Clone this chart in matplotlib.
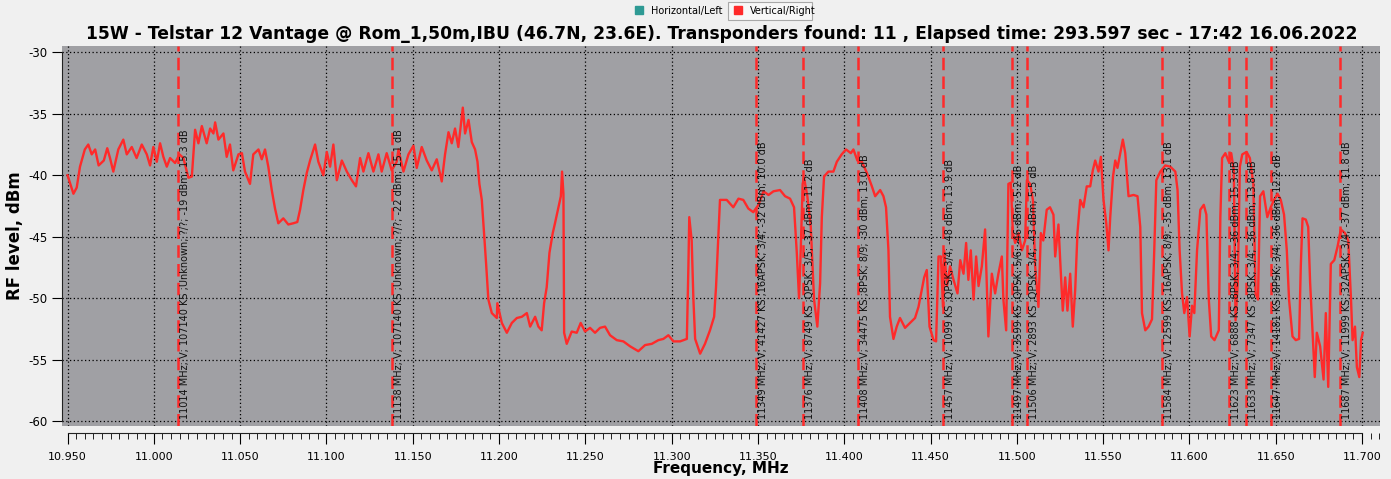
import matplotlib
matplotlib.use("Agg")
import matplotlib.pyplot as plt
from matplotlib.lines import Line2D
from matplotlib.patches import Rectangle
from matplotlib.ticker import MultipleLocator, FuncFormatter
from matplotlib.transforms import offset_copy

# spectrum trace, frequency in MHz and level in dBm
freq = [
    10950.0, 10953.4, 10955.3, 10957.2, 10960.0, 10962.0, 10964.0, 10966.0, 10968.0, 10971.0,
    10973.0, 10974.6, 10976.5, 10979.4, 10982.3, 10984.3, 10987.2, 10990.0, 10993.0, 10995.9,
    10997.8, 10999.7, 11001.7, 11003.6, 11005.5, 11007.5, 11009.4, 11012.3, 11014.8, 11017.1,
    11020.0, 11022.0, 11023.9, 11025.8, 11027.8, 11030.6, 11032.6, 11034.5, 11035.5, 11037.4,
    11040.3, 11042.2, 11044.1, 11046.0, 11049.0, 11051.0, 11052.8, 11055.7, 11057.6, 11060.6,
    11062.5, 11064.4, 11066.3, 11068.3, 11070.2, 11072.1, 11075.0, 11077.9, 11080.8, 11083.1,
    11084.7, 11086.6, 11088.6, 11090.5, 11093.4, 11095.3, 11098.2, 11100.2, 11102.1, 11104.0,
    11106.0, 11108.9, 11111.8, 11114.7, 11117.1, 11119.5, 11121.4, 11124.3, 11127.2, 11130.1,
    11132.0, 11134.9, 11137.8, 11140.7, 11141.7, 11144.6, 11147.5, 11150.4, 11152.3, 11155.2,
    11158.1, 11161.0, 11163.9, 11166.8, 11168.7, 11170.7, 11172.6, 11174.5, 11176.4, 11177.8,
    11179.0, 11180.3, 11182.3, 11184.2, 11186.1, 11187.5, 11188.6, 11190.0, 11191.3, 11192.5,
    11193.8, 11195.8, 11198.7, 11199.0, 11201.6, 11204.5, 11207.4, 11210.3, 11213.2, 11216.1,
    11218.0, 11220.9, 11222.8, 11224.7, 11226.1, 11227.6, 11229.2, 11231.1, 11232.4, 11234.4,
    11235.8, 11236.5, 11237.3, 11237.7, 11239.2, 11242.1, 11245.0, 11247.3, 11249.8, 11252.7,
    11255.6, 11258.5, 11261.4, 11264.3, 11268.2, 11272.0, 11275.9, 11280.7, 11284.6, 11288.5,
    11292.3, 11295.2, 11298.1, 11301.0, 11304.9, 11308.8, 11309.7, 11310.2, 11311.6, 11312.6,
    11313.6, 11316.5, 11319.3, 11322.2, 11324.6, 11325.7, 11327.1, 11328.0, 11331.9, 11335.7,
    11338.7, 11341.5, 11344.4, 11347.3, 11350.3, 11353.2, 11356.1, 11359.0, 11362.8, 11365.7,
    11368.6, 11370.9, 11372.5, 11373.8, 11374.8, 11375.9, 11376.7, 11378.6, 11380.6, 11382.5,
    11384.4, 11386.0, 11387.0, 11388.3, 11390.8, 11393.7, 11395.7, 11398.5, 11401.0, 11403.8,
    11405.3, 11407.6, 11410.2, 11413.1, 11416.0, 11417.9, 11420.8, 11422.7, 11424.2, 11425.6,
    11426.5, 11428.5, 11430.4, 11432.3, 11435.2, 11438.1, 11441.0, 11443.0, 11444.9, 11446.3,
    11447.8, 11449.4, 11451.7, 11453.2, 11454.6, 11456.0, 11457.2, 11457.9, 11459.5, 11461.3,
    11463.3, 11465.6, 11467.2, 11469.1, 11470.6, 11471.9, 11473.3, 11474.9, 11476.4, 11477.8,
    11479.7, 11481.6, 11483.5, 11485.5, 11487.4, 11489.3, 11491.3, 11492.2, 11493.8, 11495.1,
    11496.5, 11497.7, 11499.0, 11501.0, 11502.9, 11504.8, 11505.8, 11507.7, 11509.3, 11510.6,
    11512.5, 11513.9, 11515.3, 11517.3, 11519.2, 11521.2, 11522.2, 11524.1, 11525.1, 11526.6,
    11528.0, 11529.3, 11530.9, 11532.4, 11533.8, 11535.1, 11536.7, 11538.6, 11540.5, 11542.5,
    11544.0, 11545.4, 11547.3, 11548.7, 11550.2, 11551.8, 11553.1, 11554.1, 11555.7, 11557.0,
    11558.3, 11559.9, 11561.4, 11562.8, 11564.7, 11567.6, 11569.9, 11571.5, 11572.5, 11574.4,
    11576.3, 11578.3, 11579.6, 11580.8, 11583.1, 11586.0, 11588.9, 11591.8, 11593.1, 11594.3,
    11595.7, 11597.0, 11598.6, 11600.1, 11601.5, 11602.8, 11604.4, 11606.3, 11608.3, 11609.8,
    11611.2, 11612.6, 11614.5, 11617.0, 11617.9, 11618.9, 11620.8, 11622.8, 11624.2, 11625.7,
    11626.7, 11628.0, 11629.2, 11630.6, 11633.1, 11635.0, 11637.0, 11638.3, 11639.7, 11640.9,
    11642.8, 11645.1, 11647.1, 11649.0, 11651.0, 11652.9, 11654.8, 11656.4, 11657.7, 11659.7,
    11661.6, 11663.5, 11664.5, 11665.5, 11667.4, 11668.8, 11669.9, 11671.3, 11672.6, 11673.8,
    11675.7, 11677.7, 11679.0, 11680.4, 11681.9, 11683.9, 11685.8, 11687.7, 11690.1, 11692.0,
    11693.6, 11694.5, 11695.9, 11697.0, 11698.4, 11699.4, 11700.4,
]
level = [
    -40.0, -41.5, -41.0, -39.3, -37.9, -37.5, -38.3, -37.9, -39.2, -38.8,
    -37.8, -38.6, -39.7, -37.9, -37.1, -38.3, -37.7, -38.6, -37.5, -38.3,
    -39.2, -37.7, -38.9, -37.4, -38.5, -39.3, -38.6, -39.0, -38.3, -38.6,
    -40.2, -40.1, -36.3, -37.4, -36.0, -37.4, -36.2, -36.6, -35.7, -37.1,
    -36.6, -38.5, -37.5, -39.6, -38.3, -38.2, -39.7, -40.7, -38.3, -37.9,
    -38.7, -37.9, -39.3, -41.2, -42.7, -43.9, -43.5, -44.0, -43.9, -43.8,
    -42.8, -41.2, -39.8, -38.8, -37.5, -38.9, -40.0, -38.1, -39.3, -37.5,
    -40.4, -38.8, -39.7, -40.4, -40.9, -38.6, -39.7, -38.2, -39.7, -38.3,
    -39.7, -38.2, -39.6, -38.9, -37.9, -39.7, -38.3, -37.6, -39.4, -37.7,
    -38.8, -39.6, -38.7, -40.5, -38.3, -36.5, -37.4, -36.2, -37.7, -36.0,
    -34.5, -36.6, -35.5, -37.3, -37.9, -38.9, -40.7, -42.0, -44.7, -47.2,
    -50.1, -51.2, -51.6, -50.4, -52.0, -52.8, -52.0, -51.6, -51.5, -51.2,
    -52.3, -51.5, -52.3, -52.6, -50.4, -49.1, -46.3, -44.7, -43.9, -42.6,
    -41.7, -39.7, -41.5, -52.8, -53.7, -52.7, -52.8, -52.0, -52.7, -52.4,
    -52.8, -52.4, -52.3, -53.0, -53.4, -53.5, -53.9, -54.3, -53.8, -53.7,
    -53.4, -53.3, -53.0, -53.5, -53.5, -53.3, -47.4, -43.4, -45.3, -50.1,
    -53.3, -54.5, -53.7, -52.6, -51.5, -49.1, -44.7, -42.0, -42.0, -42.6,
    -41.9, -42.0, -42.7, -43.0, -42.4, -41.3, -41.6, -41.3, -41.2, -41.7,
    -41.9, -42.6, -46.3, -50.0, -46.0, -40.7, -40.2, -41.7, -44.2, -50.1,
    -52.3, -48.8, -43.4, -40.1, -39.7, -39.7, -38.9, -38.3, -37.9, -38.2,
    -37.9, -38.8, -38.9, -39.8, -40.9, -41.7, -41.2, -41.7, -42.6, -46.1,
    -51.5, -53.3, -52.3, -51.6, -52.4, -52.0, -51.6, -50.7, -49.3, -48.3,
    -47.7, -52.3, -53.4, -53.5, -46.6, -46.6, -50.7, -46.1, -49.0, -47.4,
    -48.5, -49.6, -46.9, -48.0, -45.5, -48.5, -46.1, -50.1, -46.6, -49.0,
    -47.4, -44.4, -53.1, -48.0, -49.6, -48.0, -46.6, -50.1, -52.6, -40.7,
    -40.6, -44.7, -45.5, -44.7, -46.1, -45.3, -40.4, -40.7, -42.0, -47.4,
    -50.7, -44.7, -45.3, -42.8, -42.6, -43.2, -46.6, -44.0, -46.9, -51.0,
    -48.3, -51.0, -48.0, -52.3, -49.3, -44.7, -42.0, -42.6, -40.9, -40.9,
    -39.6, -38.8, -39.7, -38.5, -42.0, -43.9, -46.1, -43.4, -40.1, -38.8,
    -39.4, -38.2, -37.1, -38.2, -41.7, -41.6, -41.7, -44.2, -51.2, -52.6,
    -52.3, -51.7, -46.1, -40.4, -39.7, -39.2, -39.3, -39.7, -41.2, -46.1,
    -49.6, -51.2, -49.9, -53.1, -50.6, -51.2, -46.1, -42.8, -42.4, -43.2,
    -50.1, -53.1, -53.4, -52.6, -43.4, -38.6, -38.2, -38.9, -38.2, -39.6,
    -51.8, -48.7, -39.3, -38.3, -38.1, -38.6, -40.7, -49.6, -50.1, -41.7,
    -41.3, -43.4, -42.6, -42.0, -41.5, -42.0, -43.2, -46.1, -50.1, -53.1,
    -53.4, -53.3, -47.4, -43.5, -43.6, -44.2, -48.7, -52.6, -56.4, -52.8,
    -53.9, -56.6, -51.2, -57.2, -47.2, -46.9, -45.8, -44.4, -44.7, -45.3,
    -50.1, -53.4, -52.3, -55.6, -56.4, -53.4, -52.8,
]

# detected transponders
tp_freq = [11014, 11138, 11349, 11376, 11408, 11457, 11497, 11506, 11584, 11623, 11633, 11647, 11687]
tp_sr = [107140, 107140, 41427, 8749, 34475, 1099, 3599, 2893, 12599, 6888, 7347, 14181, 11999]
tp_mod = ["Unknown", "Unknown", "16APSK", "QPSK", "8PSK", "QPSK", "QPSK", "QPSK", "16APSK", "8PSK", "8PSK", "8PSK", "32APSK"]
tp_fec = ["?/?", "?/?", "3/4", "3/5", "8/9", "3/4", "5/6", "3/4", "8/9", "3/4", "3/4", "3/4", "3/4"]
tp_pow = [-19, -22, -32, -37, -30, -48, -46, -43, -35, -36, -36, -36, -37]
tp_snr = [15.3, 15.1, 10.0, 11.2, 13.0, 13.9, 5.2, 5.5, 13.1, 15.3, 13.8, 12.2, 11.8]

title = ("15W - Telstar 12 Vantage @ Rom_1,50m,IBU (46.7N, 23.6E). Transponders found: 11 , "
         "Elapsed time: 293.597 sec - 17:42 16.06.2022")

red = "#ff2a2a"

fig = plt.figure(figsize=(13.91, 4.79), dpi=100, facecolor="#f0f0f0")
ax = fig.add_axes([0.0446, 0.1106, 0.9475, 0.7934])
ax.set_facecolor("#a0a0a4")

x = [f / 1000 for f in freq]
ax.plot(x, level, color=red, lw=1.7, zorder=3)

for f, sr, mod, fec, pw, snr in zip(tp_freq, tp_sr, tp_mod, tp_fec, tp_pow, tp_snr):
    ax.axvline(f / 1000, color=red, lw=1.8, ls=(0, (5, 2.5)), zorder=4)
    lbl = f"{f} MHz; V; {sr} KS ;{mod}; {fec}; {pw} dBm; {snr:.1f} dB"
    tr = offset_copy(ax.transData, fig=fig, x=2, y=0, units="dots")
    ax.text(f / 1000, -59.8, lbl, rotation=90, ha="left", va="bottom",
            fontsize=7, color="#111111", transform=tr, zorder=5)

ax.set_xlim(10.9468, 11.7104)
ax.set_ylim(-60.38, -29.49)
ax.xaxis.set_major_locator(MultipleLocator(0.05))
ax.xaxis.set_minor_locator(MultipleLocator(0.005))
ax.xaxis.set_major_formatter(FuncFormatter(lambda v, p: f"{v:.3f}"))
ax.yaxis.set_major_locator(MultipleLocator(5))
ax.yaxis.set_major_formatter(FuncFormatter(lambda v, p: f"{v:.0f}"))
ax.grid(True, which="major", color="black", ls=(0, (1, 2)), lw=0.9)

for s in ["top", "right"]:
    ax.spines[s].set_visible(False)
ax.spines["bottom"].set_position(("outward", 5))
ax.spines["bottom"].set_bounds(10.95, 11.70)
ax.spines["left"].set_bounds(-60, -30)
ax.spines["left"].set_color("#222222")
ax.spines["bottom"].set_color("#222222")
ax.tick_params(axis="x", which="major", length=8, labelsize=8, pad=6)
ax.tick_params(axis="x", which="minor", length=4)
ax.tick_params(axis="y", length=7, labelsize=8.5)

ax.set_xlabel("Frequency, MHz", fontsize=11, fontweight="bold", labelpad=-1)
ax.set_ylabel("RF level, dBm", fontsize=12, fontweight="bold")
ax.yaxis.set_label_coords(-0.029, 0.5)
fig.text(0.519, 0.929, title, ha="center", va="center", fontsize=12.3, fontweight="bold")

# legend bar at the top, the "Vertical/Right" entry is shown as selected
fig.patches.append(Rectangle((0.5235, 0.958), 0.0605, 0.038, transform=fig.transFigure,
                             facecolor="#f7f7f7", edgecolor="#a8a8a8", lw=0.8))
handles = [Line2D([], [], ls="none", marker="s", ms=6, color="#2e9a94"),
           Line2D([], [], ls="none", marker="s", ms=6, color=red)]
fig.legend(handles, ["Horizontal/Left", "Vertical/Right"], loc="upper center",
           bbox_to_anchor=(0.5195, 1.006), ncol=2, frameon=False, fontsize=7,
           handletextpad=0.2, columnspacing=0.6)

fig.savefig("out.png", dpi=100, facecolor=fig.get_facecolor())
